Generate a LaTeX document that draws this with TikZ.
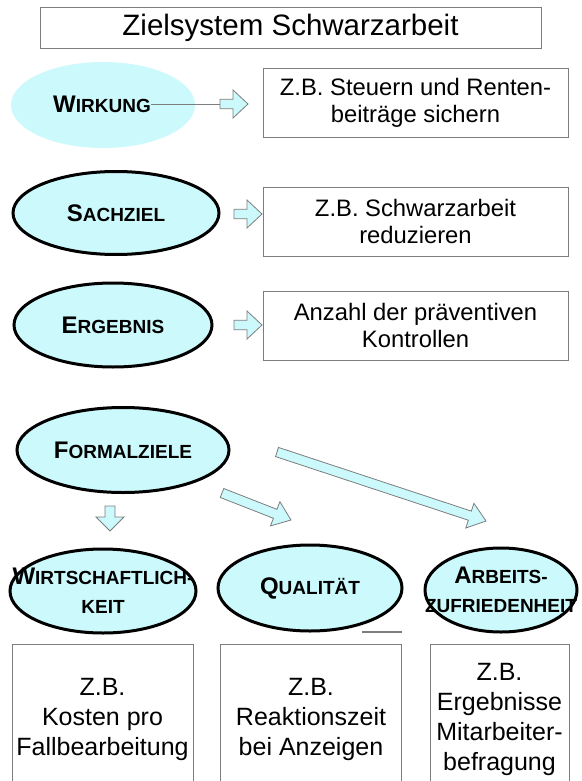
\documentclass[tikz,border=0pt]{standalone}
\usepackage{fontspec}
\setmainfont{Liberation Sans}
\usetikzlibrary{shapes.geometric,calc}

\definecolor{zfill}{RGB}{204,250,252}
\definecolor{zgray}{RGB}{125,125,125}

% small-caps style label: large initial, smaller capitals after it
\newcommand\scw[2]{{\fontsize{24}{24}\selectfont #1}{\fontsize{19}{19}\selectfont #2}}

% block arrow from #1 to #2: shaft half width #3, head half width #4, head length #5
\newcommand\blockarrow[5]{%
  \coordinate (hb) at ($(#2)!#5!(#1)$);
  \draw[barrow] ($(#1)!#3!90:(#2)$) -- ($(hb)!#3!-90:(#1)$) -- ($(hb)!#4!-90:(#1)$)
    -- (#2) -- ($(hb)!#4!90:(#1)$) -- ($(hb)!#3!90:(#1)$) -- ($(#1)!#3!-90:(#2)$) -- cycle;
}

\begin{document}
\begin{tikzpicture}[x=1pt,y=-1pt,
  goal/.style={ellipse, fill=zfill, draw=black, line width=3pt, inner sep=0pt},
  goalsoft/.style={ellipse, fill=zfill, inner sep=0pt},
  glabel/.style={font=\bfseries\fontsize{19}{29}\selectfont, align=center, inner sep=0pt},
  infobox/.style={draw=zgray, line width=0.9pt, align=center, inner sep=0pt,
    minimum width=305pt, minimum height=69pt, font=\fontsize{23.8}{27.5}\selectfont},
  lowbox/.style={draw=zgray, line width=0.9pt, align=center, inner sep=0pt,
    minimum height=150pt, font=\fontsize{25}{30}\selectfont},
  barrow/.style={draw=zgray, fill=zfill, line width=0.8pt, line join=miter},
]
\useasboundingbox[fill=white] (0,0) rectangle (581,781);
\clip (0,0) rectangle (581,781);

% title
\node[draw=zgray, line width=0.9pt, minimum width=501pt, minimum height=41pt,
  font=\fontsize{29.5}{29.5}\selectfont] (title) at (290.5,28) {Zielsystem Schwarzarbeit};

% goal ellipses, upper column
\node[goalsoft, minimum width=184pt, minimum height=86pt] (wirkung) at (103,105) {};
\node[glabel] (wirkungtxt) at (102,104) {\scw{W}{IRKUNG}};
\node[goal, minimum width=206pt, minimum height=83pt] (sachziel) at (116,213) {};
\node[glabel] at (sachziel) {\scw{S}{ACHZIEL}};
\node[goal, minimum width=198pt, minimum height=84pt] (ergebnis) at (113,325) {};
\node[glabel] at (ergebnis) {\scw{E}{RGEBNIS}};
\node[goal, minimum width=212pt, minimum height=85pt] (formal) at (123,450) {};
\node[glabel] at (formal) {\scw{F}{ORMALZIELE}};

% example boxes on the right
\node[infobox] (wbox) at (415.5,103) {Z.B. Steuern und Renten-\\beiträge sichern};
\node[infobox] (sbox) at (415.5,221.5) {Z.B. Schwarzarbeit\\reduzieren};
\node[infobox] (ebox) at (415.5,325.5) {Anzahl der präventiven\\Kontrollen};

% arrows towards the boxes
\coordinate (w1) at (220,104); \coordinate (w2) at (248,104);
\coordinate (s1) at (234,214); \coordinate (s2) at (262,214);
\coordinate (e1) at (234,325); \coordinate (e2) at (262,325);
\draw[zgray, line width=0.8pt] (wirkungtxt.east) -- (w1);
\blockarrow{w1}{w2}{4.7pt}{14pt}{15pt}
\blockarrow{s1}{s2}{4.7pt}{14pt}{15pt}
\blockarrow{e1}{e2}{4.7pt}{14pt}{15pt}

% arrows from the formal goals
\coordinate (f1a) at (110,506); \coordinate (f1b) at (110,531);
\coordinate (f2a) at (222,493); \coordinate (f2b) at (291,520);
\coordinate (f3a) at (277,452); \coordinate (f3b) at (486,521);
\blockarrow{f1a}{f1b}{5pt}{14pt}{14pt}
\blockarrow{f2a}{f2b}{4.8pt}{13pt}{17pt}
\blockarrow{f3a}{f3b}{4.8pt}{13pt}{17pt}

% formal goals
\node[goal, minimum width=186pt, minimum height=84pt] (wirt) at (103,591) {};
\node[glabel] at (wirt) {\scw{W}{IRTSCHAFTLICH-}\\{\fontsize{19}{19}\selectfont KEIT}};
\node[goal, minimum width=184pt, minimum height=86pt] (qual) at (310,588) {};
\node[glabel] at (qual) {\scw{Q}{UALITÄT}};
\node[goal, minimum width=152pt, minimum height=84pt] (arb) at (501,590) {};
\node[glabel] at (arb) {\scw{A}{RBEITS-}\\{\fontsize{19}{19}\selectfont ZUFRIEDENHEIT}};

\draw[zgray, line width=1.2pt] (362,632) -- (402,632);

% example boxes at the bottom
\node[lowbox, minimum width=181pt] (wbox2) at (102.5,719) {Z.B.\\Kosten pro\\Fallbearbeitung};
\node[lowbox, minimum width=181pt] (qbox) at (311,719) {Z.B.\\Reaktionszeit\\bei Anzeigen};
\node[lowbox, minimum width=139pt] (abox) at (499.5,719) {Z.B.\\Ergebnisse\\Mitarbeiter-\\befragung};
\end{tikzpicture}
\end{document}
